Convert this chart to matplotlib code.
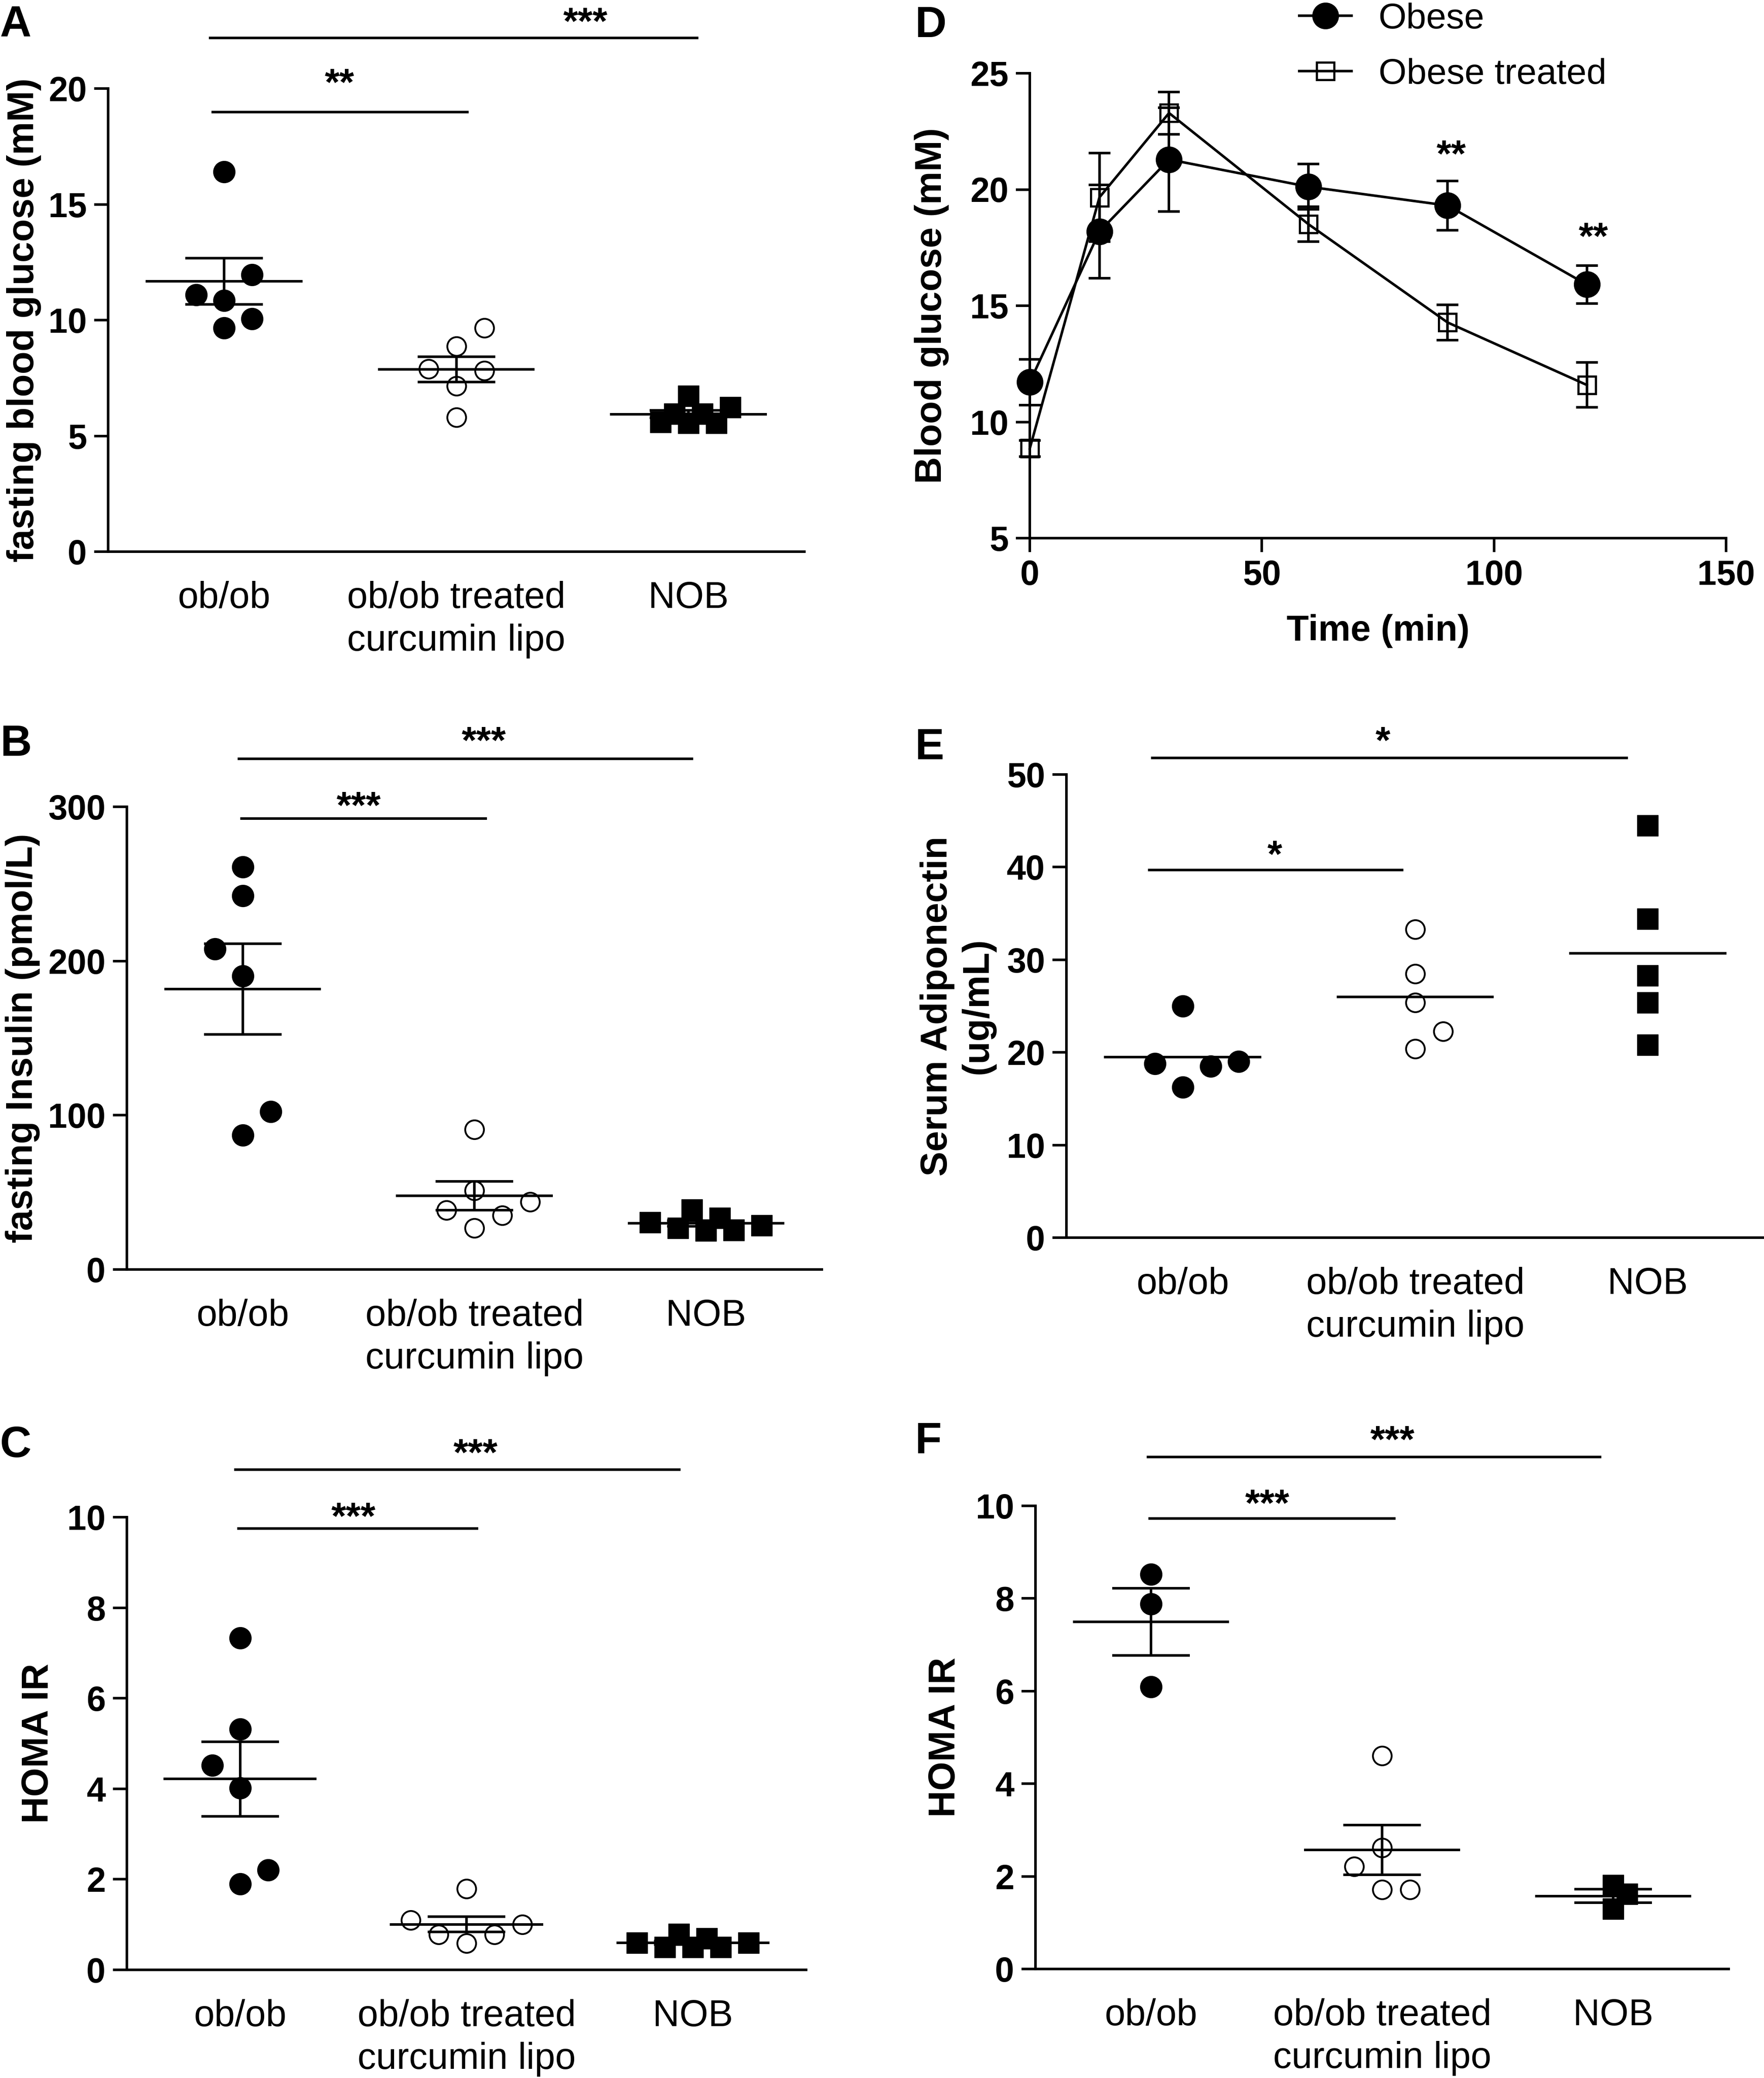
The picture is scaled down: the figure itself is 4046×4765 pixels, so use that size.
import numpy as np
import matplotlib
matplotlib.use('Agg')
import matplotlib.pyplot as plt
from matplotlib.transforms import offset_copy

# ---------------- data ----------------
groups = ['ob/ob', 'ob/ob treated\ncurcumin lipo', 'NOB']

glucose_obob = [16.4, 11.95, 11.1, 10.85, 10.05, 9.67]
glucose_treated = [9.67, 8.87, 7.9, 7.81, 7.16, 5.8]
glucose_nob = [5.95, 6.73, 5.6, 5.56, 6.23, 5.56, 5.95]

insulin_obob = [261, 242.3, 207.7, 190.4, 102.4, 87.1]
insulin_treated = [90.9, 51.3, 43.8, 38.4, 35.2, 26.8]
insulin_nob = [30.5, 26.9, 38.7, 25.3, 33.5, 25.5, 28.5]

homa_obob = [7.33, 5.32, 4.52, 4.02, 2.21, 1.9]
homa_treated = [1.79, 1.1, 1.0, 0.78, 0.78, 0.59]
homa_nob = [0.6, 0.5, 0.79, 0.5, 0.69, 0.5, 0.6]

time_min = [0, 15, 30, 60, 90, 120]
obese_mean = [11.71, 18.19, 21.29, 20.12, 19.31, 15.91]
obese_sem = [0.99, 2.0, 2.23, 0.97, 1.06, 0.81]
treated_mean = [8.86, 19.66, 23.29, 18.51, 14.28, 11.59]
treated_sem = [0.35, 1.91, 0.91, 0.75, 0.76, 0.97]

adipo_obob = [25.0, 18.8, 18.5, 19.0, 16.25]
adipo_treated = [33.3, 28.5, 25.4, 22.26, 20.4]
adipo_nob = [44.5, 34.4, 28.3, 25.4, 20.8]

homa2_obob = [8.52, 7.88, 6.09]
homa2_treated = [4.6, 2.62, 2.21, 1.71, 1.71]
homa2_nob = [1.81, 1.3, 1.62]

# ---------------- style ----------------
W, H, DPI = 4046, 4765, 300
FONT = ['Liberation Sans', 'DejaVu Sans']
plt.rcParams['font.family'] = FONT
LW = 1.4
TICK, CAT, YLAB, XLAB, LEG, STAR, LETTER = 19, 20.4, 20.5, 20, 19.8, 21, 24

fig = plt.figure(figsize=(W / DPI, H / DPI), dpi=DPI)


def add_ax(x0, x1, ytop, ybot):
    return fig.add_axes([x0 / W, 1 - ybot / H, (x1 - x0) / W, (ybot - ytop) / H])


def style(ax, yticks, ylabel, lab_x):
    for s in ['top', 'right']:
        ax.spines[s].set_visible(False)
    for s in ['left', 'bottom']:
        ax.spines[s].set_linewidth(LW)
    ax.set_yticks(yticks, [str(t) for t in yticks], fontsize=TICK, fontweight='bold')
    ax.tick_params(axis='y', direction='out', length=7.7, width=LW, pad=4)
    ax.set_ylabel(ylabel, fontsize=YLAB, fontweight='bold', va='center')
    ax.yaxis.set_label_coords(lab_x, 0.5)


def swarm(ax, xc, vals, diam, step):
    # greedy placement, lowest value first, in pixel space
    vals = np.asarray(vals, float)
    tr = ax.transData
    ypx = tr.transform(np.column_stack([np.full(len(vals), xc), vals]))[:, 1]
    placed = []
    dx = np.zeros(len(vals))
    for i in np.argsort(vals, kind='stable'):
        y = ypx[i]
        k, found = 0, None
        while found is None:
            if k == 0:
                cands = [0.0]
            else:
                left = sum(1 for d, _ in placed if d < 0)
                right = sum(1 for d, _ in placed if d > 0)
                cands = [-k * step, k * step] if left < right else [k * step, -k * step]
            for c in cands:
                if all(np.hypot(c - d, y - yy) >= diam for d, yy in placed):
                    found = c
                    break
            k += 1
        placed.append((found, y))
        dx[i] = found
    x0 = tr.transform((xc, 0))[0]
    inv = tr.inverted()
    return np.array([inv.transform((x0 + d, 0))[0] for d in dx])


MARKERS = [dict(marker='o', ms=11.8, mfc='k', mec='k', mew=0.5),
           dict(marker='o', ms=10.3, mfc='none', mec='k', mew=1.0),
           dict(marker='s', ms=11.6, mfc='k', mec='k', mew=0.3)]


def dot_panel(ax, data, ylim, sem=True):
    ax.set_xlim(-0.5, 2.5)
    ax.set_ylim(*ylim)
    ax.set_xticks(range(3), groups, fontsize=CAT)
    for lbl in ax.get_xticklabels():
        lbl.set_linespacing(1.3)
    ax.tick_params(axis='x', length=0, pad=16)
    for i, vals in enumerate(data):
        mk = MARKERS[i]
        if mk['marker'] == 's':
            xs = swarm(ax, i, vals, 37, 32)
        else:
            xs = swarm(ax, i, vals, 62, 64)
        ax.plot(xs, vals, ls='none', clip_on=False, zorder=3, **mk)
        m = np.mean(vals)
        ax.hlines(m, i - 0.338, i + 0.338, color='k', lw=LW, zorder=4)
        if sem:
            s = np.std(vals, ddof=1) / np.sqrt(len(vals))
            ax.errorbar(i, m, yerr=s, fmt='none', ecolor='k', elinewidth=LW,
                        capsize=21.4, capthick=LW, zorder=4)


def sig(ax, bars):
    drop = offset_copy(ax.transData, fig=fig, x=0, y=-50, units='dots')
    for x0, x1, y, txt, tx, ty in bars:
        ax.plot([x0, x1], [y, y], color='k', lw=LW, clip_on=False)
        ax.text(tx, ty, txt, ha='center', va='baseline', fontsize=STAR,
                fontweight='bold', transform=drop, clip_on=False)


# ---- A ----
axA = add_ax(248, 1845, 203, 1265)
dot_panel(axA, [glucose_obob, glucose_treated, glucose_nob], (0, 20))
style(axA, [0, 5, 10, 15, 20], 'fasting blood glucose (mM)', -0.121)
sig(axA, [(-0.061, 2.038, 22.18, '***', 1.556, 23.3),
          (-0.049, 1.047, 18.98, '**', 0.497, 20.66)])

# ---- B ----
axB = add_ax(291, 1885, 1850, 2911)
dot_panel(axB, [insulin_obob, insulin_treated, insulin_nob], (0, 300))
style(axB, [0, 100, 200, 300], 'fasting Insulin (pmol/L)', -0.150)
sig(axB, [(-0.017, 1.94, 331, '***', 1.04, 349),
          (-0.005, 1.048, 292.5, '***', 0.5, 307)])

# ---- C ----
axC = add_ax(291, 1849, 3479, 4517)
dot_panel(axC, [homa_obob, homa_treated, homa_nob], (0, 10))
style(axC, [0, 2, 4, 6, 8, 10], 'HOMA IR', -0.130)
sig(axC, [(-0.021, 1.94, 11.05, '***', 1.04, 11.63),
          (-0.007, 1.046, 9.75, '***', 0.5, 10.23)])

# ---- D ----
axD = add_ax(2362, 3959, 168, 1234)
axD.set_xlim(0, 150)
axD.set_ylim(5, 25)
axD.errorbar(time_min, obese_mean, yerr=obese_sem, fmt='none', ecolor='k',
             elinewidth=LW, capsize=6.1, capthick=LW, clip_on=False, zorder=2)
axD.errorbar(time_min, treated_mean, yerr=treated_sem, fmt='none', ecolor='k',
             elinewidth=LW, capsize=6.1, capthick=LW, clip_on=False, zorder=2)
l1, = axD.plot(time_min, obese_mean, '-o', color='k', lw=LW, ms=13.7,
               clip_on=False, zorder=3, label='Obese')
l2, = axD.plot(time_min, treated_mean, '-s', color='k', lw=LW, ms=9.6, mfc='none',
               mew=1.2, clip_on=False, zorder=3, label='Obese treated')
style(axD, [5, 10, 15, 20, 25], 'Blood glucose (mM)', -0.141)
axD.set_xticks([0, 50, 100, 150], ['0', '50', '100', '150'], fontsize=TICK, fontweight='bold')
axD.tick_params(axis='x', direction='out', length=7.7, width=LW, pad=4)
axD.set_xlabel('Time (min)', fontsize=XLAB, fontweight='bold', labelpad=12)
dropD = offset_copy(axD.transData, fig=fig, x=0, y=-50, units='dots')
for tx, ty in [(90.8, 21.94), (121.4, 18.38)]:
    axD.text(tx, ty, '**', ha='center', va='baseline', fontsize=STAR, fontweight='bold',
             transform=dropD, clip_on=False)
axD.legend(handles=[l1, l2], loc='upper left', bbox_to_anchor=(2980 / W, 1 - 6 / H),
           bbox_transform=fig.transFigure, frameon=False, fontsize=LEG, borderpad=0,
           borderaxespad=0, handlelength=1.45, handletextpad=0.75, labelspacing=0.62)

# ---- E ----
axE = add_ax(2446, 4046, 1776, 2838)
dot_panel(axE, [adipo_obob, adipo_treated, adipo_nob], (0, 50), sem=False)
style(axE, [0, 10, 20, 30, 40, 50], 'Serum Adiponectin\n(ug/mL)', -0.156)
sig(axE, [(-0.131, 1.91, 51.8, '*', 0.86, 54.7),
          (-0.143, 0.944, 39.7, '*', 0.395, 42.4)])

# ---- F ----
axF = add_ax(2375, 3965, 3453, 4515)
dot_panel(axF, [homa2_obob, homa2_treated, homa2_nob], (0, 10))
style(axF, [0, 2, 4, 6, 8, 10], 'HOMA IR', -0.130)
sig(axF, [(-0.013, 1.943, 11.05, '***', 1.045, 11.63),
          (-0.006, 1.053, 9.73, '***', 0.504, 10.26)])

# panel letters
for letter, x, y in [('A', 0, 12), ('B', 0, 1660), ('C', 0, 3268),
                     ('D', 2098, 12), ('E', 2098, 1668), ('F', 2098, 3258)]:
    fig.text(x / W, 1 - y / H, letter, ha='left', va='top', fontsize=LETTER,
             fontweight='bold')

fig.savefig('out.png', dpi=DPI)
